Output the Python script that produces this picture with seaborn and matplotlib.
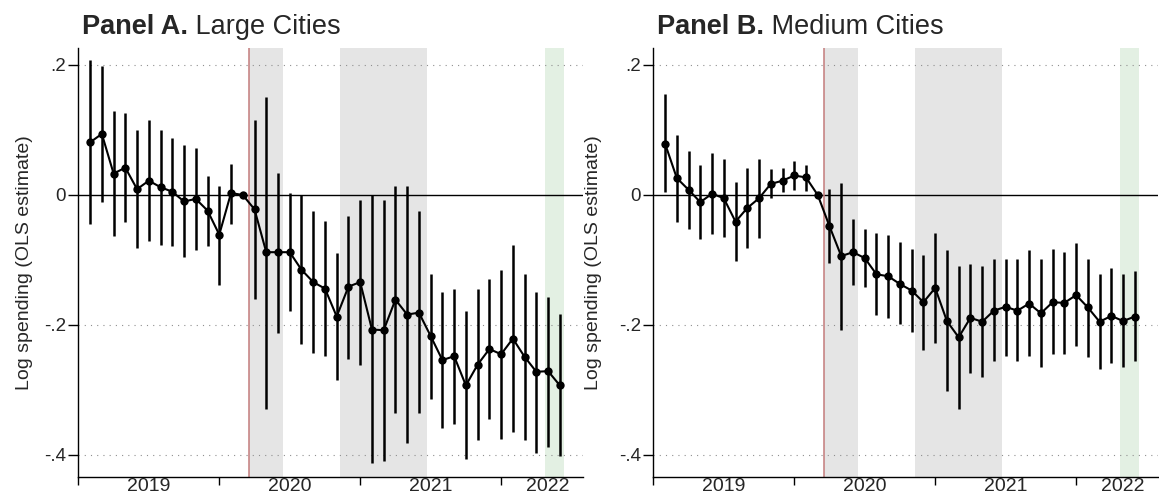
import numpy as np
import pandas as pd
import matplotlib
matplotlib.use("Agg")
import matplotlib.pyplot as plt
import seaborn as sns

nan = np.nan

# Event-study coefficients by month (index 0 = first month in sample), 95% CI bounds.
# Month 13 is the omitted reference period.
months = list(range(41))

coef_large = [0.081, 0.094, 0.033, 0.042, 0.009, 0.022, 0.012, 0.005, -0.010, -0.006,
              -0.024, -0.061, 0.003, 0.0, -0.022, -0.088, -0.088, -0.088, -0.115, -0.134,
              -0.144, -0.187, -0.141, -0.134, -0.207, -0.208, -0.161, -0.184, -0.181, -0.217,
              -0.254, -0.248, -0.293, -0.261, -0.237, -0.245, -0.221, -0.249, -0.272, -0.271,
              -0.293]
hi_large = [0.207, 0.199, 0.129, 0.126, 0.100, 0.115, 0.100, 0.088, 0.077, 0.072,
            0.029, 0.014, 0.048, nan, 0.116, 0.151, 0.034, 0.003, 0.0, -0.025,
            -0.040, -0.089, -0.032, -0.007, 0.0, -0.007, 0.014, 0.014, -0.025, -0.121,
            -0.149, -0.145, -0.179, -0.145, -0.130, -0.116, -0.077, -0.122, -0.149, -0.157,
            -0.183]
lo_large = [-0.045, -0.011, -0.063, -0.042, -0.082, -0.071, -0.077, -0.078, -0.096, -0.084,
            -0.078, -0.138, -0.045, nan, -0.160, -0.330, -0.212, -0.179, -0.230, -0.243,
            -0.247, -0.284, -0.252, -0.261, -0.413, -0.409, -0.336, -0.381, -0.336, -0.314,
            -0.359, -0.352, -0.406, -0.377, -0.345, -0.375, -0.365, -0.377, -0.397, -0.387,
            -0.402]

coef_medium = [0.079, 0.026, 0.008, -0.011, 0.002, -0.005, -0.041, -0.020, -0.005, 0.017,
               0.022, 0.030, 0.027, 0.0, -0.048, -0.094, -0.088, -0.097, -0.122, -0.125,
               -0.137, -0.147, -0.165, -0.143, -0.194, -0.219, -0.189, -0.195, -0.178, -0.172,
               -0.178, -0.167, -0.182, -0.165, -0.166, -0.154, -0.173, -0.195, -0.186, -0.194,
               -0.187]
hi_medium = [0.155, 0.093, 0.067, 0.046, 0.064, 0.055, 0.020, 0.041, 0.056, 0.040,
             0.041, 0.052, 0.046, nan, 0.009, 0.019, -0.037, -0.053, -0.059, -0.062,
             -0.072, -0.083, -0.092, -0.059, -0.085, -0.110, -0.106, -0.110, -0.098, -0.098,
             -0.099, -0.085, -0.099, -0.083, -0.087, -0.074, -0.098, -0.121, -0.113, -0.122,
             -0.117]
lo_medium = [0.004, -0.042, -0.052, -0.068, -0.060, -0.065, -0.102, -0.081, -0.066, -0.005,
             0.004, 0.008, 0.006, nan, -0.105, -0.207, -0.138, -0.141, -0.185, -0.189,
             -0.199, -0.211, -0.238, -0.227, -0.302, -0.329, -0.274, -0.280, -0.256, -0.248,
             -0.256, -0.248, -0.264, -0.245, -0.244, -0.233, -0.249, -0.268, -0.258, -0.264,
             -0.256]

# Axis furniture
year_bounds = [-1, 11, 23, 35]
year_label_pos = [5, 17, 29, 39]
year_labels = ["2019", "2020", "2021", "2022"]
y_ticks = [0.2, 0.0, -0.2, -0.4]
y_tick_labels = [".2", "0", "-.2", "-.4"]

# Shaded periods (in month-index units)
event_month = 13.5
gray_periods = [(13.5, 16.4), (21.3, 28.7)]
green_period = (38.7, 40.35)

sns.set_theme(style="white")
plt.rcParams["font.family"] = ["Liberation Sans", "DejaVu Sans"]

fig = plt.figure(figsize=(11.59, 4.99), dpi=100)
ax_a = fig.add_axes([0.0676, 0.0447, 0.4357, 0.8597])
ax_b = fig.add_axes([0.5637, 0.0447, 0.4357, 0.8597])

panels = [
    (ax_a, "Panel A.", " Large Cities", coef_large, lo_large, hi_large, -0.089),
    (ax_b, "Panel B.", " Medium Cities", coef_medium, lo_medium, hi_medium, -0.101),
]

for ax, bold_part, rest, coef, lo, hi, label_x in panels:
    df = pd.DataFrame({"month": months, "coef": coef, "lo": lo, "hi": hi})

    for a, b in gray_periods:
        ax.axvspan(a, b, color="#e5e5e5", lw=0, zorder=0)
    ax.axvspan(*green_period, color="#e3f0e3", lw=0, zorder=0)

    for yv in [0.2, -0.2, -0.4]:
        ax.axhline(yv, color="#8f8f8f", lw=0.8, ls=(0, (1, 4.6)), zorder=1)
    ax.axhline(0, color="black", lw=1.0, zorder=1)
    ax.axvline(event_month, color="#c47c7c", lw=1.1, zorder=2)

    ci = df.dropna(subset=["lo", "hi"])
    ax.vlines(ci["month"], ci["lo"], ci["hi"], color="black", lw=1.8, zorder=3)
    sns.lineplot(data=df, x="month", y="coef", ax=ax, color="black", lw=1.5,
                 marker="o", markersize=6, markeredgewidth=0, zorder=4)

    ax.set_xlim(-1, 42)
    ax.set_ylim(-0.4334, 0.2266)

    ax.set_yticks(y_ticks)
    ax.set_yticklabels(y_tick_labels)
    ax.set_xticks(year_bounds)
    ax.set_xticklabels([])
    ax.set_xticks(year_label_pos, minor=True)
    ax.set_xticklabels(year_labels, minor=True)
    ax.tick_params(axis="x", which="major", direction="out", length=6, width=1,
                   color="black", bottom=True)
    ax.tick_params(axis="x", which="minor", length=0, pad=1, labelsize=14,
                   bottom=True)
    ax.tick_params(axis="y", direction="out", length=7, width=1, color="black",
                   pad=2, labelsize=13.5, left=True)

    for side in ["top", "right"]:
        ax.spines[side].set_visible(False)
    for side in ["left", "bottom"]:
        ax.spines[side].set_color("black")
        ax.spines[side].set_linewidth(1.0)

    ax.set_xlabel("")
    ax.set_ylabel("Log spending (OLS estimate)", fontsize=14)
    ax.yaxis.set_label_coords(label_x, 0.5)
    ax.grid(False)

    t1 = ax.annotate(bold_part, xy=(0, 1), xycoords="axes fraction",
                     xytext=(4, 14), textcoords="offset pixels",
                     fontsize=19.5, fontweight="bold", ha="left", va="baseline")
    ax.annotate(rest, xy=(1, 0), xycoords=t1, fontsize=19.5, ha="left",
                va="bottom")

fig.savefig("out.png", dpi=100)
